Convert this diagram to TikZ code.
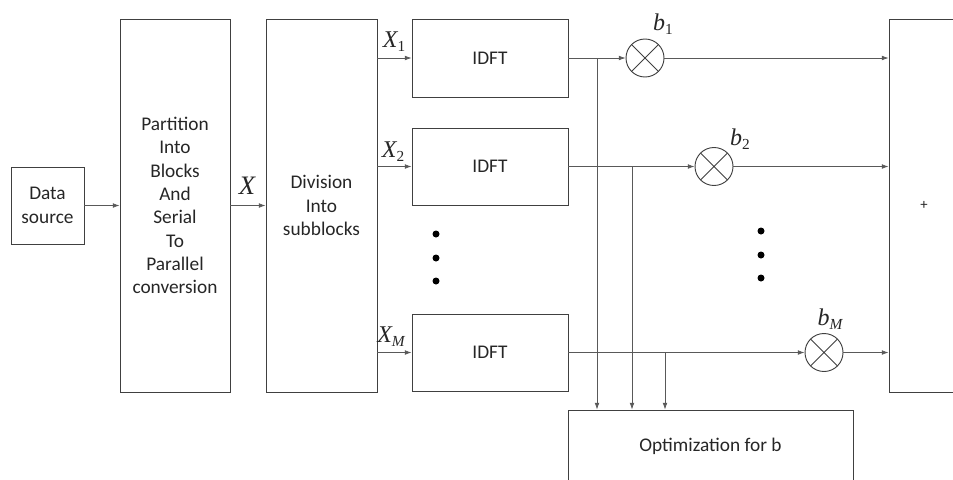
\documentclass[tikz,border=0pt]{standalone}
\usepackage{fontspec}
\setmainfont{Carlito}
\newfontfamily\tms{Liberation Serif}
\usetikzlibrary{arrows.meta}
\newcommand{\sym}[2]{{\fontsize{18}{18}\selectfont\tms\itshape #1}\raisebox{-0.6ex}{\fontsize{11.5}{11.5}\selectfont\tms #2}}

\begin{document}
\begin{tikzpicture}[x=0.75pt, y=-0.75pt,
        blk/.style={draw=black!75, line width=0.7pt, text=black!85, align=center, inner sep=0pt, font=\fontsize{14.5}{17.5}\selectfont},
        mult/.style={circle, draw=black!75, line width=0.7pt, minimum size=28.5pt, inner sep=0pt,
            path picture={\draw[black!75, line width=0.7pt] (path picture bounding box.south west) -- (path picture bounding box.north east)
                (path picture bounding box.north west) -- (path picture bounding box.south east);}},
        sig/.style={draw=black!65, line width=0.5pt, -{Latex[length=5pt,width=3.5pt]}},
        lbl/.style={inner sep=0pt, text=black!85}]
        \useasboundingbox (0,0) rectangle (953,479);
        \clip (0,0) rectangle (953,479);

        % Blocks
        \node[blk, minimum width=54.75pt, minimum height=57.75pt] (src) at (47.5,205.5) {Data\\source};
        \node[blk, minimum width=82.5pt, minimum height=279.75pt] (part) at (175,205.5) {Partition\\Into\\Blocks\\And\\Serial\\To\\Parallel\\conversion};
        \node[blk, minimum width=83.25pt, minimum height=279.75pt] (div) at (321.5,205.5) {Division\\Into\\subblocks};
        \node[blk, minimum width=117pt, minimum height=58.5pt] (idft1) at (490,58) {IDFT};
        \node[blk, minimum width=117pt, minimum height=57.75pt] (idft2) at (490,166.5) {IDFT};
        \node[blk, minimum width=117pt, minimum height=57.75pt] (idftM) at (490,352.5) {IDFT};
        \node[blk, minimum width=52.5pt, minimum height=279.75pt, font=\fontsize{11}{11}\selectfont] (sum) at (924,205.5) {+};
        \node[blk, minimum width=213.75pt, minimum height=54pt] (opt) at (710.5,446) {Optimization for b};

        % Multipliers
        \node[mult] (m1) at (645,58) {};
        \node[mult] (m2) at (714,166.5) {};
        \node[mult] (mM) at (824,352.5) {};

        % Labels
        \node[lbl] (lx) at (247,186) {{\fontsize{20}{20}\selectfont\tms\itshape X}};
        \node[lbl] (lx1) at (394,42) {\sym{X}{1}};
        \node[lbl] (lx2) at (393,152) {\sym{X}{2}};
        \node[lbl] (lxM) at (391,337) {\sym{X}{\itshape M}};
        \node[lbl] (lb1) at (663,24) {\sym{b}{1}};
        \node[lbl] (lb2) at (740,139) {\sym{b}{2}};
        \node[lbl] (lbM) at (830,319) {\sym{b}{\itshape M}};

        % Signal flow
        \draw[sig] (src) -- (part);
        \draw[sig] (part) -- (div);
        \foreach \i in {1,2,M} {
            \draw[sig] (idft\i.west -| div.east) -- (idft\i.west);
            \draw[sig] (idft\i) -- (m\i);
            \draw[sig] (m\i) -- (m\i -| sum.west);
        }

        % Taps to optimization
        \coordinate (t1) at (597,58);
        \coordinate (t2) at (632,166.5);
        \coordinate (tM) at (665,352.5);
        \foreach \t in {t1,t2,tM} \draw[sig] (\t) -- (\t |- opt.north);

        % Dots
        \foreach \y in {234,258,281} {
            \fill[black] (436,\y) circle (3.5);
            \fill[black] (761,\y-3) circle (3.5);
        }
\end{tikzpicture}
\end{document}
